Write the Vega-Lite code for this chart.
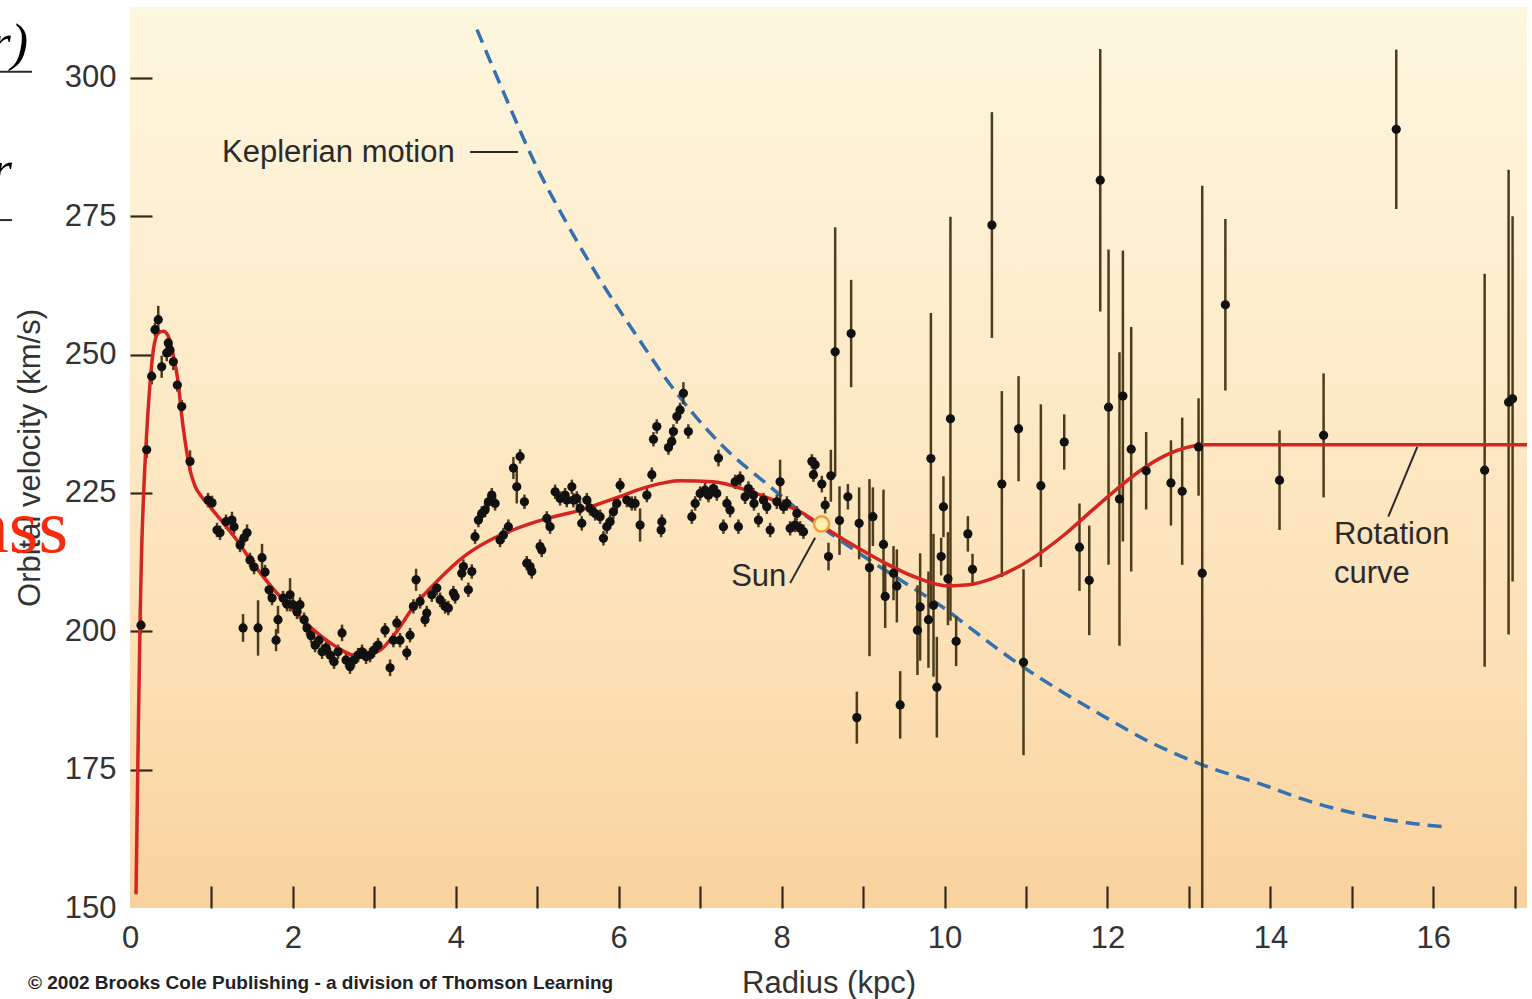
{
 "$schema": "https://vega.github.io/schema/vega-lite/v6.json",
 "width": 1397, "height": 901,
 "autosize": {"type": "none"},
 "padding": {"left": 130, "top": 7, "right": 5, "bottom": 91},
 "background": "white",
 "view": {"stroke": null, "fill": {"gradient": "linear", "x1": 0, "y1": 0, "x2": 0, "y2": 1, "stops": [{"offset": 0, "color": "#fdf7df"}, {"offset": 0.4, "color": "#fdebc9"}, {"offset": 0.75, "color": "#fcdfb3"}, {"offset": 1, "color": "#f9d29e"}]}},
 "config": {"font": "Liberation Sans"},
 "datasets": {
  "pts": [
   {"r":0.135,"v":201.1,"e":1.5},{"r":0.205,"v":232.8,"e":1.5},{"r":0.266,"v":246.1,"e":1.5},{"r":0.307,"v":254.5,"e":1.2},{"r":0.347,"v":256.3,"e":2.5},{"r":0.389,"v":247.8,"e":2.0},{"r":0.451,"v":250.3,"e":1.5},{"r":0.470,"v":252.1,"e":1.5},{"r":0.491,"v":250.8,"e":1.2},{"r":0.532,"v":248.7,"e":1.5},{"r":0.581,"v":244.5,"e":1.2},{"r":0.635,"v":240.6,"e":1.2},{"r":0.737,"v":230.7,"e":2.0},
   {"r":0.958,"v":223.7,"e":1.3},{"r":1.007,"v":223.2,"e":1.3},{"r":1.068,"v":218.3,"e":1.3},{"r":1.105,"v":217.8,"e":1.3},{"r":1.179,"v":219.8,"e":1.3},{"r":1.252,"v":220.1,"e":1.5},{"r":1.277,"v":218.9,"e":1.3},{"r":1.351,"v":215.6,"e":1.3},{"r":1.400,"v":216.9,"e":1.3},{"r":1.437,"v":217.8,"e":1.5},{"r":1.388,"v":200.6,"e":2.5},{"r":1.473,"v":212.9,"e":1.3},{"r":1.523,"v":211.6,"e":1.3},{"r":1.572,"v":200.6,"e":5.0},{"r":1.621,"v":213.3,"e":2.5},{"r":1.658,"v":210.7,"e":1.3},{"r":1.707,"v":207.5,"e":1.3},{"r":1.744,"v":206.0,"e":1.3},{"r":1.793,"v":198.4,"e":2.0},{"r":1.817,"v":202.1,"e":2.5},{"r":1.879,"v":206.0,"e":1.3},{"r":1.928,"v":204.9,"e":1.3},{"r":1.965,"v":206.6,"e":3.0},{"r":2.001,"v":204.8,"e":1.3},{"r":2.051,"v":203.5,"e":1.3},{"r":2.087,"v":204.8,"e":1.3},{"r":2.137,"v":202.1,"e":1.3},{"r":2.173,"v":200.6,"e":1.3},{"r":2.222,"v":199.2,"e":1.3},{"r":2.272,"v":197.5,"e":1.3},{"r":2.321,"v":198.4,"e":1.3},{"r":2.358,"v":196.3,"e":1.3},{"r":2.407,"v":197.0,"e":1.3},{"r":2.456,"v":195.7,"e":1.3},{"r":2.505,"v":194.5,"e":1.3},{"r":2.554,"v":196.3,"e":1.3},{"r":2.603,"v":199.7,"e":1.5},{"r":2.652,"v":194.8,"e":1.3},{"r":2.701,"v":193.6,"e":1.3},{"r":2.750,"v":194.8,"e":1.3},{"r":2.800,"v":195.7,"e":1.3},{"r":2.849,"v":196.3,"e":1.3},{"r":2.898,"v":195.4,"e":1.3},{"r":2.947,"v":195.7,"e":1.3},{"r":2.996,"v":196.6,"e":1.3},{"r":3.045,"v":197.5,"e":1.3},
   {"r":3.131,"v":200.2,"e":1.3},{"r":3.193,"v":193.4,"e":1.5},{"r":3.233,"v":198.4,"e":1.3},{"r":3.275,"v":201.5,"e":1.3},{"r":3.315,"v":198.4,"e":1.3},{"r":3.398,"v":196.1,"e":1.3},{"r":3.438,"v":199.3,"e":1.3},{"r":3.479,"v":204.5,"e":1.3},{"r":3.512,"v":209.3,"e":2.0},{"r":3.561,"v":205.4,"e":1.3},{"r":3.622,"v":202.1,"e":1.3},{"r":3.643,"v":203.3,"e":1.3},{"r":3.705,"v":206.6,"e":1.3},{"r":3.766,"v":207.8,"e":1.3},{"r":3.807,"v":205.7,"e":1.3},{"r":3.868,"v":204.5,"e":1.3},{"r":3.908,"v":204.2,"e":1.3},{"r":3.970,"v":206.9,"e":1.3},{"r":3.991,"v":206.3,"e":1.3},{"r":4.073,"v":210.5,"e":1.3},{"r":4.093,"v":211.7,"e":1.3},{"r":4.154,"v":207.5,"e":1.3},{"r":4.196,"v":210.8,"e":1.3},{"r":4.236,"v":217.1,"e":1.3},{"r":4.277,"v":220.1,"e":1.3},{"r":4.319,"v":221.3,"e":1.3},{"r":4.359,"v":221.9,"e":1.3},{"r":4.400,"v":223.4,"e":1.3},{"r":4.441,"v":224.6,"e":1.3},{"r":4.482,"v":223.1,"e":1.3},{"r":4.543,"v":216.5,"e":1.3},{"r":4.584,"v":217.4,"e":1.3},{"r":4.645,"v":218.9,"e":1.3},{"r":4.707,"v":229.5,"e":2.0},{"r":4.748,"v":226.1,"e":3.0},{"r":4.789,"v":231.6,"e":1.3},{"r":4.842,"v":223.4,"e":1.3},{"r":4.871,"v":212.3,"e":1.3},{"r":4.912,"v":211.7,"e":1.3},{"r":4.932,"v":210.8,"e":1.3},{"r":5.034,"v":215.3,"e":1.3},{"r":5.055,"v":214.7,"e":1.3},{"r":5.117,"v":220.4,"e":1.3},{"r":5.157,"v":218.9,"e":1.3},{"r":5.219,"v":225.2,"e":1.3},{"r":5.280,"v":224.0,"e":1.3},{"r":5.341,"v":224.6,"e":1.3},{"r":5.362,"v":223.7,"e":1.3},{"r":5.424,"v":226.1,"e":1.3},{"r":5.443,"v":223.7,"e":1.3},{"r":5.485,"v":224.0,"e":1.3},{"r":5.525,"v":222.2,"e":1.3},{"r":5.546,"v":219.5,"e":1.3},{"r":5.608,"v":223.7,"e":1.3},{"r":5.648,"v":222.2,"e":1.3},{"r":5.710,"v":221.3,"e":1.3},{"r":5.771,"v":220.7,"e":1.3},{"r":5.812,"v":216.8,"e":1.3},{"r":5.853,"v":218.9,"e":1.3},{"r":5.894,"v":219.8,"e":1.3},{"r":5.934,"v":221.6,"e":1.3},{"r":5.976,"v":223.1,"e":1.3},{"r":6.017,"v":226.4,"e":1.3},{"r":6.099,"v":223.7,"e":1.3},{"r":6.160,"v":223.1,"e":1.3},{"r":6.201,"v":223.1,"e":1.3},
   {"r":6.262,"v":219.2,"e":3.0},{"r":6.345,"v":224.6,"e":1.3},{"r":6.406,"v":228.3,"e":1.3},{"r":6.426,"v":234.7,"e":1.3},{"r":6.467,"v":237.0,"e":1.3},{"r":6.529,"v":219.8,"e":1.3},{"r":6.520,"v":218.3,"e":1.3},{"r":6.610,"v":233.2,"e":1.3},{"r":6.651,"v":234.3,"e":1.3},{"r":6.671,"v":236.1,"e":1.3},{"r":6.713,"v":238.8,"e":1.3},{"r":6.753,"v":240.0,"e":1.3},{"r":6.794,"v":243.0,"e":2.0},{"r":6.855,"v":236.1,"e":1.3},{"r":6.897,"v":220.7,"e":1.3},{"r":6.938,"v":223.1,"e":1.3},{"r":6.999,"v":224.9,"e":1.3},{"r":7.060,"v":225.5,"e":1.3},{"r":7.101,"v":224.6,"e":1.3},{"r":7.162,"v":225.8,"e":1.3},{"r":7.204,"v":224.9,"e":1.3},{"r":7.224,"v":231.3,"e":1.5},{"r":7.285,"v":218.9,"e":1.3},{"r":7.327,"v":223.1,"e":1.3},{"r":7.367,"v":221.9,"e":1.3},{"r":7.429,"v":227.0,"e":1.3},{"r":7.469,"v":218.9,"e":1.3},{"r":7.490,"v":227.6,"e":1.3},{"r":7.551,"v":224.3,"e":1.3},{"r":7.592,"v":225.8,"e":1.3},{"r":7.653,"v":224.6,"e":1.3},{"r":7.660,"v":223.1,"e":1.3},{"r":7.715,"v":220.1,"e":1.3},{"r":7.776,"v":223.7,"e":1.3},{"r":7.818,"v":222.5,"e":1.3},{"r":7.859,"v":218.3,"e":1.3},{"r":7.941,"v":223.4,"e":1.3},{"r":7.981,"v":227.0,"e":4.0},{"r":8.022,"v":222.5,"e":1.3},{"r":8.064,"v":223.1,"e":1.3},{"r":8.104,"v":218.6,"e":1.3},{"r":8.165,"v":219.2,"e":1.3},{"r":8.186,"v":221.3,"e":1.3},{"r":8.227,"v":218.6,"e":1.3},{"r":8.268,"v":218.0,"e":1.3},{"r":8.371,"v":230.7,"e":1.3},{"r":8.390,"v":228.3,"e":1.3},{"r":8.411,"v":230.1,"e":1.3},{"r":8.493,"v":226.6,"e":1.5},{"r":8.534,"v":222.8,"e":1.5},{"r":8.575,"v":213.5,"e":2.5},
   {"r":8.604,"v":228.1,"e":4.7},{"r":8.657,"v":250.5,"e":22.5},{"r":8.710,"v":220.0,"e":6.2},{"r":8.813,"v":224.3,"e":2.3},{"r":8.853,"v":253.8,"e":9.7},{"r":8.923,"v":184.4,"e":4.7},{"r":8.951,"v":219.5,"e":6.5},{"r":9.078,"v":211.5,"e":16.0},{"r":9.120,"v":220.7,"e":5.3},{"r":9.250,"v":215.7,"e":9.9},{"r":9.271,"v":206.3,"e":5.7},{"r":9.373,"v":210.5,"e":4.9},{"r":9.414,"v":208.2,"e":6.6},{"r":9.455,"v":186.7,"e":6.1},{"r":9.667,"v":200.2,"e":8.1},{"r":9.700,"v":204.4,"e":9.7},{"r":9.802,"v":202.1,"e":8.7},{"r":9.832,"v":231.2,"e":26.3},{"r":9.864,"v":204.7,"e":12.9},{"r":9.905,"v":189.9,"e":9.1},{"r":9.958,"v":213.5,"e":3.4},{"r":9.986,"v":222.5,"e":5.5},{"r":10.041,"v":209.5,"e":8.4},{"r":10.072,"v":238.4,"e":36.5},{"r":10.142,"v":198.2,"e":4.5},{"r":10.286,"v":217.6,"e":3.2},{"r":10.343,"v":211.2,"e":2.8},{"r":10.581,"v":273.4,"e":20.4},{"r":10.703,"v":226.6,"e":16.8},{"r":10.908,"v":236.6,"e":9.5},{"r":10.969,"v":194.4,"e":16.8},
   {"r":11.182,"v":226.3,"e":14.7},{"r":11.469,"v":234.2,"e":5.0},{"r":11.656,"v":215.2,"e":7.9},{"r":11.776,"v":209.2,"e":9.9},{"r":11.911,"v":281.5,"e":23.7},{"r":12.013,"v":240.5,"e":28.5},{"r":12.147,"v":223.9,"e":26.5},{"r":12.189,"v":242.5,"e":26.3},{"r":12.291,"v":232.9,"e":22.1},{"r":12.475,"v":229.0,"e":7.0},{"r":12.779,"v":226.8,"e":7.7},{"r":12.917,"v":225.3,"e":13.3},{"r":13.118,"v":233.3,"e":8.8},{"r":13.163,"v":210.5,"e":70.0},{"r":13.447,"v":259.0,"e":15.5},
   {"r":14.112,"v":227.3,"e":9.0},{"r":14.653,"v":235.4,"e":11.2},{"r":15.545,"v":290.7,"e":14.4},{"r":16.630,"v":229.1,"e":35.5},{"r":16.924,"v":241.4,"e":42.0},{"r":16.973,"v":242.0,"e":33.0}
  ],
  "rot": [
   {"r":0.074,"v":152.5},{"r":0.10,"v":180},{"r":0.125,"v":203},{"r":0.143,"v":214.7},{"r":0.164,"v":223.7},{"r":0.205,"v":235.8},{"r":0.246,"v":244.8},{"r":0.286,"v":250.8},{"r":0.347,"v":253.9},{"r":0.409,"v":254.2},{"r":0.470,"v":253.3},{"r":0.532,"v":249.7},{"r":0.593,"v":244.8},{"r":0.635,"v":239.0},{"r":0.675,"v":234.5},{"r":0.74,"v":229.0},{"r":0.80,"v":226.2},{"r":0.88,"v":224.3},{"r":0.97,"v":222.7},{"r":1.105,"v":220.3},{"r":1.31,"v":216.5},{"r":1.5,"v":212.5},{"r":1.75,"v":207.8},{"r":2.0,"v":203.9},{"r":2.25,"v":200.3},{"r":2.5,"v":197.5},{"r":2.8,"v":195.5},{"r":3.07,"v":196.6},{"r":3.25,"v":199.5},{"r":3.48,"v":204.4},{"r":3.8,"v":209.5},{"r":4.09,"v":213.4},{"r":4.4,"v":216.3},{"r":4.70,"v":218.3},{"r":5.1,"v":220.3},{"r":5.53,"v":221.9},{"r":5.95,"v":224.0},{"r":6.35,"v":226.1},{"r":6.75,"v":227.2},{"r":7.16,"v":227.0},{"r":7.57,"v":225.5},{"r":7.98,"v":223.2},{"r":8.25,"v":221.4},{"r":8.47,"v":219.3},{"r":8.85,"v":215.8},{"r":9.21,"v":212.8},{"r":9.62,"v":209.9},{"r":10.03,"v":208.2},{"r":10.3,"v":208.4},{"r":10.6,"v":209.6},{"r":10.9,"v":211.6},{"r":11.2,"v":214.4},{"r":11.5,"v":217.8},{"r":11.8,"v":221.7},{"r":12.1,"v":225.5},{"r":12.4,"v":229.0},{"r":12.7,"v":231.7},{"r":13.0,"v":233.3},{"r":13.2,"v":233.7},{"r":17.15,"v":233.7}
  ],
  "kep": [
   {"r":4.26,"v":308.7},{"r":4.60,"v":296.9},{"r":4.95,"v":285.2},{"r":5.34,"v":274.3},{"r":5.77,"v":263.5},{"r":6.26,"v":252.5},{"r":6.59,"v":245.4},{"r":7.24,"v":234.0},{"r":7.86,"v":226.1},{"r":8.31,"v":220.7},{"r":8.49,"v":218.8},{"r":8.96,"v":214.0},{"r":9.54,"v":208.5},{"r":10.03,"v":203.8},{"r":10.27,"v":201.1},{"r":10.68,"v":196.5},{"r":10.97,"v":193.5},{"r":11.45,"v":189.0},{"r":11.91,"v":185.0},{"r":12.52,"v":180.0},{"r":13.14,"v":176.0},{"r":13.96,"v":172.0},{"r":14.37,"v":169.8},{"r":14.98,"v":167.3},{"r":15.59,"v":165.6},{"r":16.18,"v":164.6}
  ],
  "sun": [{"r":8.49,"v":219.4}],
  "ann": [{"r":1.13,"v":284.8,"label":"Keplerian motion"},{"r":7.38,"v":208.2,"label":"Sun"},{"r":14.78,"v":215.8,"label":"Rotation"},{"r":14.78,"v":208.7,"label":"curve"}],
  "lead": [{"r":4.175,"v":286.6,"r2":4.764,"v2":286.6},{"r":8.104,"v":208.7,"r2":8.411,"v2":216.9},{"r":15.447,"v":220.7,"r2":15.803,"v2":233.3},{"r":-1.596,"v":301.1,"r2":-1.203,"v2":301.1},{"r":-1.596,"v":274.3,"r2":-1.449,"v2":274.3}],
  "art": [{"r":-1.252,"v":303.3,"label":"r)"},{"r":-1.449,"v":280.3,"label":"r"}],
  "red": [{"r":-0.761,"v":214.3,"label":"ass"}],
  "copy": [{"r":-1.252,"v":135.4,"label":"© 2002 Brooks Cole Publishing - a division of Thomson Learning"}]
 },
 "encoding": {
  "x": {"field": "r", "type": "quantitative",
   "scale": {"domain": [0, 17.15], "nice": false, "zero": false},
   "axis": {"values": [0,1,2,3,4,5,6,7,8,9,10,11,12,13,14,15,16,17],
     "labelExpr": "datum.value % 2 === 0 ? datum.label : ''",
     "format": "d", "domain": false, "grid": false,
     "tickSize": -22, "tickWidth": 2.2, "tickColor": "#33281a",
     "tickOpacity": {"condition": {"test": "datum.value === 0", "value": 0}, "value": 1},
     "labelPadding": 37, "labelFontSize": 31, "labelColor": "#333333", "labelFont": "Liberation Sans",
     "labelFlush": false, "labelOverlap": false,
     "title": "Radius (kpc)", "titleFontSize": 31, "titleFontWeight": "normal", "titleColor": "#333333", "titleFont": "Liberation Sans", "titlePadding": 15}},
  "y": {"field": "v", "type": "quantitative",
   "scale": {"domain": [150, 312.8], "nice": false, "zero": false},
   "axis": {"values": [150,175,200,225,250,275,300],
     "domain": false, "grid": false,
     "tickSize": -22, "tickWidth": 2.2, "tickColor": "#33281a",
     "tickOpacity": {"condition": {"test": "datum.value === 150", "value": 0}, "value": 1},
     "labelPadding": 36, "labelFontSize": 31, "labelColor": "#333333", "labelFont": "Liberation Sans",
     "labelFlush": false, "labelOverlap": false,
     "title": "Orbital velocity (km/s)", "titleFontSize": 31, "titleFontWeight": "normal", "titleColor": "#333333", "titleFont": "Liberation Sans", "titlePadding": 18}}
 },
 "layer": [
  {"data": {"name": "kep"}, "mark": {"type": "line", "color": "#3570b0", "strokeWidth": 3.5, "strokeDash": [14, 8], "interpolate": "monotone"}},
  {"data": {"name": "pts"}, "mark": {"type": "errorbar", "ticks": false, "clip": true, "rule": {"stroke": "#4d3c1c", "strokeWidth": 2.5}}, "encoding": {"yError": {"field": "e"}}},
  {"data": {"name": "rot"}, "mark": {"type": "line", "color": "#d42520", "strokeWidth": 3.5, "interpolate": "monotone"}},
  {"data": {"name": "pts"}, "mark": {"type": "circle", "size": 85, "color": "#111111", "opacity": 1}},
  {"data": {"name": "sun"}, "mark": {"type": "circle", "size": 230, "filled": true, "fill": "#fff0b0", "stroke": "#f0a03a", "strokeWidth": 2.5, "opacity": 1}},
  {"data": {"name": "lead"}, "mark": {"type": "rule", "color": "#2a2a2a", "strokeWidth": 2}, "encoding": {"x2": {"field": "r2"}, "y2": {"field": "v2"}}},
  {"data": {"name": "ann"}, "mark": {"type": "text", "align": "left", "baseline": "alphabetic", "font": "Liberation Sans", "fontSize": 31, "color": "#2a2a2a"}, "encoding": {"text": {"field": "label"}}},
  {"data": {"name": "art"}, "mark": {"type": "text", "align": "right", "baseline": "alphabetic", "font": "Liberation Serif", "fontStyle": "italic", "fontSize": 52, "color": "#000000"}, "encoding": {"text": {"field": "label"}}},
  {"data": {"name": "red"}, "mark": {"type": "text", "align": "right", "baseline": "alphabetic", "font": "Liberation Serif", "fontSize": 76, "color": "#fa2a0c"}, "encoding": {"text": {"field": "label"}}},
  {"data": {"name": "copy"}, "mark": {"type": "text", "align": "left", "baseline": "alphabetic", "font": "Liberation Sans", "fontWeight": "bold", "fontSize": 19, "color": "#222222"}, "encoding": {"text": {"field": "label"}}}
 ]
}
